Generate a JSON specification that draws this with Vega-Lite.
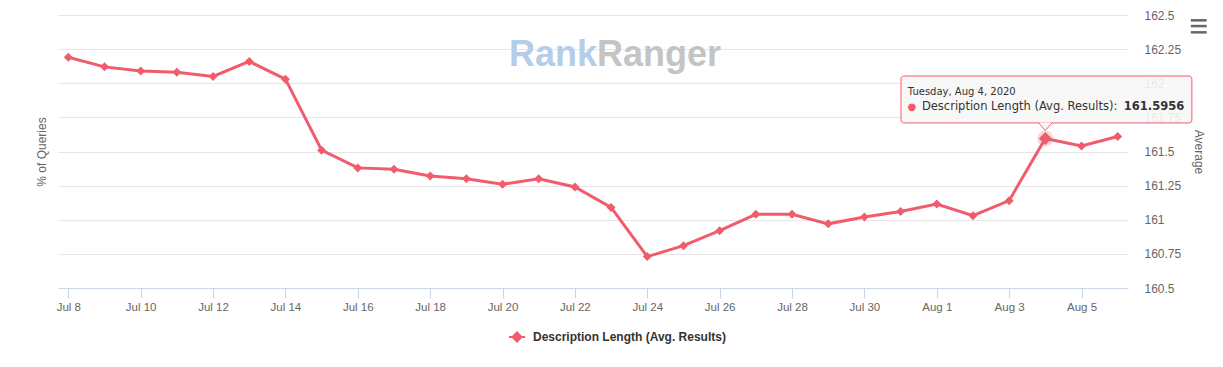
{
  "$schema": "https://vega.github.io/schema/vega-lite/v6.json",
  "width": 1070,
  "height": 273,
  "autosize": {"type": "none"},
  "padding": {"left": 58, "top": 15, "right": 95, "bottom": 79},
  "background": "#ffffff",
  "config": {"view": {"stroke": null}, "font": "Liberation Sans"},
  "data": {"values": [
    {"date": "2020-07-08", "value": 162.19, "series": "Description Length (Avg. Results)"},
    {"date": "2020-07-09", "value": 162.12, "series": "Description Length (Avg. Results)"},
    {"date": "2020-07-10", "value": 162.09, "series": "Description Length (Avg. Results)"},
    {"date": "2020-07-11", "value": 162.08, "series": "Description Length (Avg. Results)"},
    {"date": "2020-07-12", "value": 162.05, "series": "Description Length (Avg. Results)"},
    {"date": "2020-07-13", "value": 162.16, "series": "Description Length (Avg. Results)"},
    {"date": "2020-07-14", "value": 162.03, "series": "Description Length (Avg. Results)"},
    {"date": "2020-07-15", "value": 161.51, "series": "Description Length (Avg. Results)"},
    {"date": "2020-07-16", "value": 161.38, "series": "Description Length (Avg. Results)"},
    {"date": "2020-07-17", "value": 161.37, "series": "Description Length (Avg. Results)"},
    {"date": "2020-07-18", "value": 161.32, "series": "Description Length (Avg. Results)"},
    {"date": "2020-07-19", "value": 161.30, "series": "Description Length (Avg. Results)"},
    {"date": "2020-07-20", "value": 161.26, "series": "Description Length (Avg. Results)"},
    {"date": "2020-07-21", "value": 161.30, "series": "Description Length (Avg. Results)"},
    {"date": "2020-07-22", "value": 161.24, "series": "Description Length (Avg. Results)"},
    {"date": "2020-07-23", "value": 161.09, "series": "Description Length (Avg. Results)"},
    {"date": "2020-07-24", "value": 160.73, "series": "Description Length (Avg. Results)"},
    {"date": "2020-07-25", "value": 160.81, "series": "Description Length (Avg. Results)"},
    {"date": "2020-07-26", "value": 160.92, "series": "Description Length (Avg. Results)"},
    {"date": "2020-07-27", "value": 161.04, "series": "Description Length (Avg. Results)"},
    {"date": "2020-07-28", "value": 161.04, "series": "Description Length (Avg. Results)"},
    {"date": "2020-07-29", "value": 160.97, "series": "Description Length (Avg. Results)"},
    {"date": "2020-07-30", "value": 161.02, "series": "Description Length (Avg. Results)"},
    {"date": "2020-07-31", "value": 161.06, "series": "Description Length (Avg. Results)"},
    {"date": "2020-08-01", "value": 161.115, "series": "Description Length (Avg. Results)"},
    {"date": "2020-08-02", "value": 161.03, "series": "Description Length (Avg. Results)"},
    {"date": "2020-08-03", "value": 161.14, "series": "Description Length (Avg. Results)"},
    {"date": "2020-08-04", "value": 161.5956, "series": "Description Length (Avg. Results)"},
    {"date": "2020-08-05", "value": 161.54, "series": "Description Length (Avg. Results)"},
    {"date": "2020-08-06", "value": 161.61, "series": "Description Length (Avg. Results)"}
  ]},
  "layer": [
    {
      "data": {"values": [{}]},
      "mark": {"type": "text", "text": "Rank", "align": "right", "baseline": "alphabetic", "fontSize": 36, "fontWeight": "bold", "font": "Liberation Sans", "color": "#b5cde9"},
      "encoding": {
        "x": {"datum": {"year": 2020, "month": 7, "date": 22, "hours": 14, "minutes": 38, "utc": true}, "type": "temporal", "axis": null},
        "y": {"datum": 162.126, "type": "quantitative", "axis": null}
      }
    },
    {
      "data": {"values": [{}]},
      "mark": {"type": "text", "text": "Ranger", "align": "left", "baseline": "alphabetic", "fontSize": 36, "fontWeight": "bold", "font": "Liberation Sans", "color": "#c4c4c4"},
      "encoding": {
        "x": {"datum": {"year": 2020, "month": 7, "date": 22, "hours": 14, "minutes": 38, "utc": true}, "type": "temporal", "axis": null},
        "y": {"datum": 162.126, "type": "quantitative", "axis": null}
      }
    },
    {
      "mark": {"type": "point", "opacity": 0},
      "encoding": {
        "y": {"field": "value", "type": "quantitative", "axis": {"orient": "left", "title": "% of Queries", "labels": false, "ticks": false, "domain": false, "grid": false, "titleColor": "#666666", "titleFontSize": 12, "titleFontWeight": "normal", "titlePadding": 10}}
      }
    },
    {
      "data": {"values": [{}]},
      "mark": {"type": "point", "shape": "circle", "size": 254, "filled": true, "color": "#f15c6d", "opacity": 0.25},
      "encoding": {
        "x": {"datum": {"year": 2020, "month": 8, "date": 4, "utc": true}, "type": "temporal", "axis": null},
        "y": {"datum": 161.5956, "type": "quantitative", "axis": null}
      }
    },
    {
      "mark": {"type": "line", "strokeWidth": 3, "point": {"shape": "diamond", "size": 81, "filled": true, "opacity": 1}},
      "encoding": {
        "x": {"field": "date", "type": "temporal",
          "scale": {"type": "utc", "domain": [{"year": 2020, "month": 7, "date": 7, "hours": 17, "minutes": 10, "utc": true}, {"year": 2020, "month": 8, "date": 6, "hours": 6, "minutes": 50, "utc": true}]},
          "axis": {"title": null, "format": "%b %-d", "labelColor": "#666666", "labelFontSize": 11.5, "domainColor": "#ccd6eb", "tickColor": "#ccd6eb", "tickSize": 10, "labelPadding": 3, "grid": false, "labelFlush": false, "labelOverlap": false,
            "values": [
              {"year": 2020, "month": 7, "date": 8, "utc": true},
              {"year": 2020, "month": 7, "date": 10, "utc": true},
              {"year": 2020, "month": 7, "date": 12, "utc": true},
              {"year": 2020, "month": 7, "date": 14, "utc": true},
              {"year": 2020, "month": 7, "date": 16, "utc": true},
              {"year": 2020, "month": 7, "date": 18, "utc": true},
              {"year": 2020, "month": 7, "date": 20, "utc": true},
              {"year": 2020, "month": 7, "date": 22, "utc": true},
              {"year": 2020, "month": 7, "date": 24, "utc": true},
              {"year": 2020, "month": 7, "date": 26, "utc": true},
              {"year": 2020, "month": 7, "date": 28, "utc": true},
              {"year": 2020, "month": 7, "date": 30, "utc": true},
              {"year": 2020, "month": 8, "date": 1, "utc": true},
              {"year": 2020, "month": 8, "date": 3, "utc": true},
              {"year": 2020, "month": 8, "date": 5, "utc": true}
            ]}},
        "y": {"field": "value", "type": "quantitative",
          "scale": {"domain": [160.5, 162.5], "zero": false, "nice": false},
          "axis": {"orient": "right", "title": "Average", "titleAngle": 90, "titleColor": "#666666", "titleFontSize": 12, "titleFontWeight": "normal", "titlePadding": 11,
            "values": [160.5, 160.75, 161, 161.25, 161.5, 161.75, 162, 162.25, 162.5], "format": ".2~f",
            "labelColor": "#666666", "labelFontSize": 12, "labelPadding": 16, "labelFlush": false, "ticks": false, "domain": false, "grid": true, "gridColor": "#e6e6e6"}},
        "color": {"field": "series", "type": "nominal", "scale": {"range": ["#f15c6d"]},
          "legend": {"title": null, "orient": "none", "legendX": 450, "legendY": 313, "labelLimit": 400,
            "symbolType": "M -1 0 L 1 0 M 0 -0.56 L 0.56 0 L 0 0.56 L -0.56 0 Z", "symbolSize": 256, "symbolStrokeWidth": 2,
            "symbolFillColor": "#f15c6d", "symbolStrokeColor": "#f15c6d", "labelFontSize": 12, "labelFontWeight": "bold", "labelColor": "#333333", "labelOffset": 7}}
      }
    },
    {
      "data": {"values": [{}]},
      "mark": {"type": "point", "shape": "diamond", "size": 170, "filled": true, "color": "#f15c6d", "opacity": 1},
      "encoding": {
        "x": {"datum": {"year": 2020, "month": 8, "date": 4, "utc": true}, "type": "temporal", "axis": null},
        "y": {"datum": 161.5956, "type": "quantitative", "axis": null}
      }
    },
    {
      "data": {"values": [{}]},
      "mark": {"type": "rect", "fill": "#f7f7f7", "fillOpacity": 0.9, "stroke": "#f15c6d", "strokeWidth": 1, "cornerRadius": 3},
      "encoding": {
        "x": {"datum": {"year": 2020, "month": 7, "date": 31, "hours": 0, "minutes": 15, "utc": true}, "type": "temporal", "axis": null},
        "x2": {"datum": {"year": 2020, "month": 8, "date": 8, "hours": 1, "minutes": 12, "utc": true}},
        "y": {"datum": 162.053, "type": "quantitative", "axis": null},
        "y2": {"datum": 161.709}
      }
    },
    {
      "data": {"values": [{}]},
      "mark": {"type": "point", "shape": "M -1 -1 L 0 0.14 L 1 -1", "size": 196, "filled": false, "fill": "#f7f7f7", "fillOpacity": 1, "stroke": "#f15c6d", "strokeWidth": 1, "opacity": 1},
      "encoding": {
        "x": {"datum": {"year": 2020, "month": 8, "date": 4, "utc": true}, "type": "temporal", "axis": null},
        "y": {"datum": 161.661, "type": "quantitative", "axis": null}
      }
    },
    {
      "data": {"values": [{}]},
      "mark": {"type": "text", "text": "Tuesday, Aug 4, 2020", "align": "left", "baseline": "middle", "fontSize": 10, "font": "DejaVu Sans", "color": "#333333"},
      "encoding": {
        "x": {"datum": {"year": 2020, "month": 7, "date": 31, "hours": 4, "minutes": 48, "utc": true}, "type": "temporal", "axis": null},
        "y": {"datum": 161.936, "type": "quantitative", "axis": null}
      }
    },
    {
      "data": {"values": [{}]},
      "mark": {"type": "text", "text": "●", "align": "center", "baseline": "middle", "fontSize": 10, "font": "DejaVu Sans", "color": "#f15c6d"},
      "encoding": {
        "x": {"datum": {"year": 2020, "month": 7, "date": 31, "hours": 7, "minutes": 26, "utc": true}, "type": "temporal", "axis": null},
        "y": {"datum": 161.826, "type": "quantitative", "axis": null}
      }
    },
    {
      "data": {"values": [{}]},
      "mark": {"type": "text", "text": "Description Length (Avg. Results):", "align": "left", "baseline": "middle", "fontSize": 11.5, "font": "DejaVu Sans", "color": "#333333"},
      "encoding": {
        "x": {"datum": {"year": 2020, "month": 7, "date": 31, "hours": 14, "minutes": 10, "utc": true}, "type": "temporal", "axis": null},
        "y": {"datum": 161.826, "type": "quantitative", "axis": null}
      }
    },
    {
      "data": {"values": [{}]},
      "mark": {"type": "text", "text": "161.5956", "align": "left", "baseline": "middle", "fontSize": 11.5, "fontWeight": "bold", "font": "DejaVu Sans", "color": "#333333"},
      "encoding": {
        "x": {"datum": {"year": 2020, "month": 8, "date": 6, "hours": 4, "minutes": 5, "utc": true}, "type": "temporal", "axis": null},
        "y": {"datum": 161.826, "type": "quantitative", "axis": null}
      }
    },
    {
      "data": {"values": [{}]},
      "mark": {"type": "rule", "color": "#666666", "strokeWidth": 2.5, "strokeCap": "butt"},
      "encoding": {
        "x": {"datum": {"year": 2020, "month": 8, "date": 8, "hours": 0, "minutes": 30, "utc": true}, "type": "temporal", "axis": null},
        "x2": {"datum": {"year": 2020, "month": 8, "date": 8, "hours": 11, "minutes": 2, "utc": true}},
        "y": {"datum": 162.461, "type": "quantitative", "axis": null}
      }
    },
    {
      "data": {"values": [{}]},
      "mark": {"type": "rule", "color": "#666666", "strokeWidth": 2.5, "strokeCap": "butt"},
      "encoding": {
        "x": {"datum": {"year": 2020, "month": 8, "date": 8, "hours": 0, "minutes": 30, "utc": true}, "type": "temporal", "axis": null},
        "x2": {"datum": {"year": 2020, "month": 8, "date": 8, "hours": 11, "minutes": 2, "utc": true}},
        "y": {"datum": 162.419, "type": "quantitative", "axis": null}
      }
    },
    {
      "data": {"values": [{}]},
      "mark": {"type": "rule", "color": "#666666", "strokeWidth": 2.5, "strokeCap": "butt"},
      "encoding": {
        "x": {"datum": {"year": 2020, "month": 8, "date": 8, "hours": 0, "minutes": 30, "utc": true}, "type": "temporal", "axis": null},
        "x2": {"datum": {"year": 2020, "month": 8, "date": 8, "hours": 11, "minutes": 2, "utc": true}},
        "y": {"datum": 162.373, "type": "quantitative", "axis": null}
      }
    }
  ],
  "resolve": {"axis": {"y": "independent", "x": "independent"}}
}
